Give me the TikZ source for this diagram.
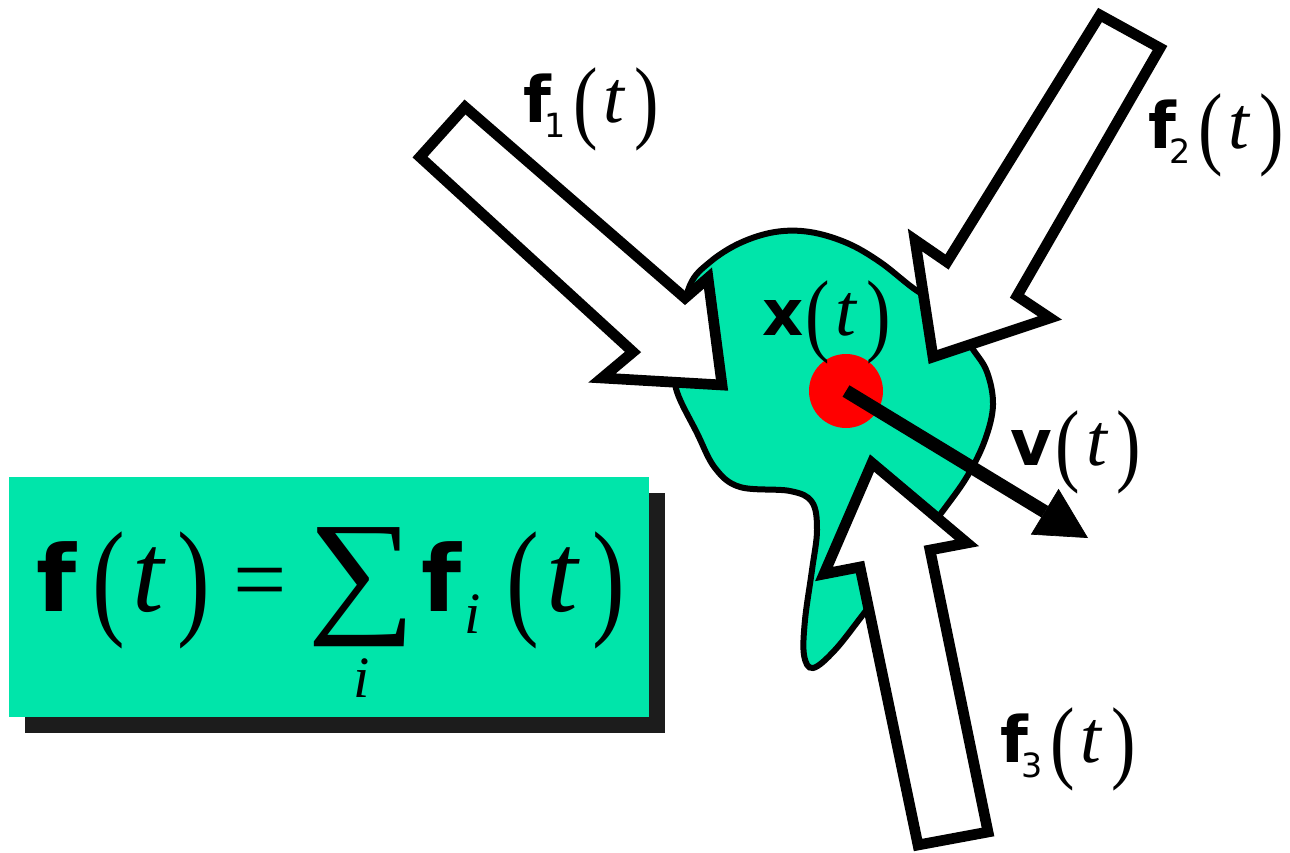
\documentclass[tikz,border=0pt]{standalone}
\usepackage{fontspec}
\usepackage{graphicx}
\usetikzlibrary{arrows.meta}
\newfontfamily\vecfont{DejaVu Sans}
\newfontfamily\symfont{Liberation Serif}
\definecolor{blobgreen}{RGB}{0,229,170}
\definecolor{shadowgray}{RGB}{28,28,28}
\tikzset{
  forcearrow/.style={draw=black,fill=white,line width=8pt,miter limit=20},
  lab/.style={anchor=base west,inner sep=0pt},
}
% small labels: bold letter, optional index, (t)
\newcommand{\bvec}[1]{{\vecfont\bfseries\fontsize{48}{48}\selectfont #1}}
\newcommand{\idx}[1]{\kern-5pt\raisebox{-11.25pt}{\vecfont\fontsize{25}{25}\selectfont #1}\hspace{5.3pt}}
\newcommand{\smpar}[1]{\raisebox{-6.75pt}{\scalebox{0.8}[1]{\symfont\fontsize{69}{69}\selectfont #1}}}
\newcommand{\ofT}{\smpar{(}\hspace{4.2pt}{\symfont\itshape\fontsize{56}{56}\selectfont t}\hspace{7.5pt}\smpar{)}}
% big formula
\newcommand{\bigpar}[1]{\raisebox{-7.5pt}{\scalebox{0.76}[1]{\symfont\fontsize{97}{97}\selectfont #1}}}
\newcommand{\bigT}{{\symfont\itshape\fontsize{85}{85}\selectfont t}}
\begin{document}
\begin{tikzpicture}[x=0.75pt,y=-0.75pt]
\useasboundingbox (0,0) rectangle (1290,853);

% sum box with shadow
\fill[shadowgray] (25,493) rectangle (665,733);
\fill[blobgreen] (9,477) rectangle (649,717);
\node[lab] (sum) at (36.3,611) {{\vecfont\bfseries\fontsize{69}{69}\selectfont f}\hspace{12pt}\bigpar{(}\hspace{5.3pt}\bigT\hspace{10.4pt}\bigpar{)}%
  \hspace{17.3pt}{\symfont\fontsize{71}{71}\selectfont =}\hspace{15.3pt}%
  \setbox0\hbox{\raisebox{-4.5pt}{\scalebox{1.11}[1]{\symfont\fontsize{103}{103}\selectfont ∑}}}\rlap{\hbox to \wd0{\hss\raisebox{-64.5pt}{\symfont\itshape\fontsize{44}{44}\selectfont i}\hss}}\box0%
  \hspace{4pt}{\vecfont\bfseries\fontsize{69}{69}\selectfont f}\kern2.5pt\raisebox{-16.5pt}{\symfont\itshape\fontsize{44}{44}\selectfont i}%
  \hspace{19.4pt}\bigpar{(}\hspace{5.3pt}\bigT\hspace{10.4pt}\bigpar{)}};

% the body
\draw[fill=blobgreen,line width=4.5pt] plot[smooth cycle,tension=0.6] coordinates {
  (677,392) (697,433) (715,468) (740,487) (790,491) (812,502) (817,530)
  (812,570) (805,620) (804,655) (813,668) (835,650) (865,612) (905,560)
  (945,508) (968,475) (985,440) (993,405) (987,372) (972,348) (945,310)
  (913,288) (880,262) (847,243) (810,232) (775,232) (740,243) (710,262)
  (690,285) (680,330) (675,365)};

% forces
\draw[forcearrow] (465,107) -- (685,298) -- (708,278) -- (722,385) -- (602,378) -- (633,352) -- (420,157) -- cycle;
\draw[forcearrow] (1100,15) -- (1160,48) -- (1017,296) -- (1050,318) -- (933,357) -- (915,240) -- (947,262) -- cycle;
\draw[forcearrow] (872,463) -- (967,543) -- (930,550) -- (988,832) -- (918,845) -- (860,567) -- (824,574) -- cycle;

% position and velocity
\node[circle,fill=red,minimum size=55.5pt,inner sep=0pt] (xdot) at (846,391) {};
\coordinate (vtip) at (1088,538);
\draw[line width=10pt,-{Triangle[length=38pt,width=40pt,line width=0.5pt]}] (xdot.center) -- (vtip);

\node[lab] (f1lab) at (523.5,122) {\bvec{f}\idx{1}\ofT};
\node[lab] (f2lab) at (1148.5,148) {\bvec{f}\idx{2}\ofT};
\node[lab] (f3lab) at (1000.5,762) {\bvec{f}\idx{3}\ofT};
\node[lab] (xlab) at (762,335) {\bvec{x}\hspace{1.5pt}\ofT};
\node[lab] (vlab) at (1010,465) {\bvec{v}\hspace{3pt}\ofT};
\end{tikzpicture}
\end{document}
